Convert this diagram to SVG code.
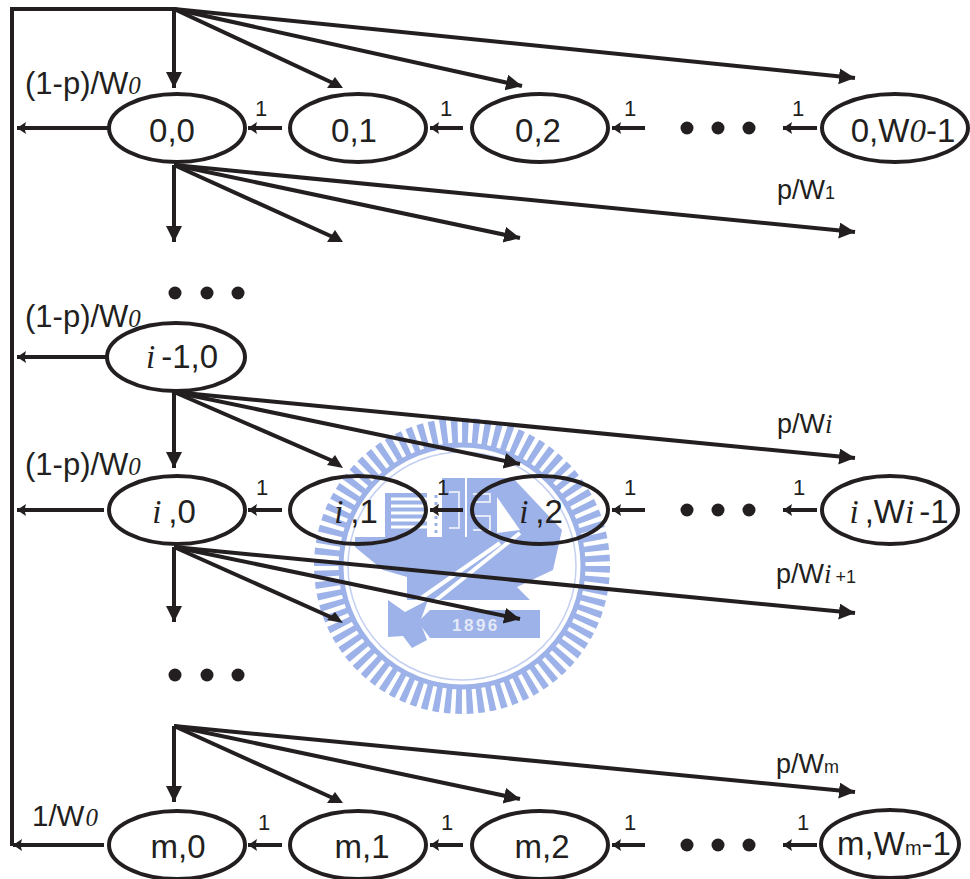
<svg xmlns="http://www.w3.org/2000/svg" width="970" height="879" viewBox="0 0 970 879">
<style>
text{font-family:"Liberation Sans",Arial,sans-serif;fill:#231f20}
.n{font-size:33px;text-anchor:middle}
.l{font-size:27px}
.L{font-size:31px}
.K{font-size:29.5px}
.o{font-size:22px}
.e{fill:none;stroke:#231f20;stroke-width:4}
.i{font-family:"Liberation Serif","Times New Roman",serif;font-style:italic}
.z{font-size:25px}
.s{font-size:18px}
.c line,.c path{stroke:#231f20;stroke-width:4;fill:none}
.a{marker-end:url(#big)}
.b{marker-end:url(#small)}
.d{fill:#231f20}
.w{fill:#9db2e8}
</style>
<defs>
<marker id="big" markerUnits="userSpaceOnUse" markerWidth="20" markerHeight="20" refX="16" refY="8" orient="auto"><path d="M0 0L16 8L0 16Z" fill="#231f20"/></marker>
<marker id="small" markerUnits="userSpaceOnUse" markerWidth="16" markerHeight="16" refX="9" refY="6" orient="auto"><path d="M0 0L9 6L0 12L1.5 6Z" fill="#231f20"/></marker>
</defs>
<g id="watermark">
<circle cx="462" cy="566" r="135" fill="none" stroke="#9db2e8" stroke-width="26" stroke-dasharray="6.2 4.4"/>
<circle cx="462" cy="566" r="121" fill="none" stroke="#9db2e8" stroke-width="5"/>
<circle cx="462" cy="566" r="114" fill="none" stroke="#c3cff0" stroke-width="1.5"/>
<path class="w" d="M385 493H427V537H385Z"/>
<path d="M391 499H427M391 506H427M391 513H427M391 520H427M391 527H427" stroke="#fff" stroke-width="3" fill="none"/>
<path d="M436 495V537" stroke="#9db2e8" stroke-width="3" stroke-dasharray="3 4" fill="none"/>
<path class="w" d="M442 478H465V537H442Z"/>
<path d="M449 492H459V528H449" fill="none" stroke="#e4e9f8" stroke-width="2"/>
<path class="w" d="M467 478H513L562 530L553 570L517 587L530 600H407V577L383 570L355 547V537H467Z"/>
<path d="M473 494H490V502H473V516H490V530H473" fill="none" stroke="#e4e9f8" stroke-width="2"/>
<path d="M497 497L520 530L497 533Z" fill="#fff"/>
<path d="M407 608L500 543M415 617L520 533" stroke="#fff" stroke-width="4" fill="none"/>
<path class="w" d="M388 600L405 612L428 600L420 622L427 640L412 648L403 636L388 637Z"/>
<path class="w" d="M430 610H540V638H430L418 622Z"/>
<text x="452" y="631" style="font-size:17px;font-weight:bold;fill:#e4e9f8;letter-spacing:2.5px">1896</text>
</g>
<g id="connectors" class="c">
<path d="M12 846V9H174"/>
<line class="a" x1="174" y1="9" x2="174" y2="88"/><line x1="174" y1="9" x2="335" y2="84"/><polygon class="d" points="327,88 343,88 335,77"/><line class="a" x1="174" y1="9" x2="522" y2="86"/><line class="a" x1="174" y1="9" x2="855" y2="78"/>
<line class="a" x1="174" y1="165" x2="174" y2="242"/><line x1="174" y1="165" x2="335" y2="238"/><polygon class="d" points="327,242 343,242 335,230"/><line class="a" x1="174" y1="165" x2="520" y2="238"/><line class="a" x1="174" y1="165" x2="855" y2="232"/>
<line class="a" x1="174" y1="392" x2="174" y2="468"/><line x1="174" y1="392" x2="335" y2="462"/><polygon class="d" points="327,465 343,468 335,455"/><line class="a" x1="174" y1="392" x2="520" y2="464"/><line class="a" x1="174" y1="392" x2="855" y2="458"/>
<line class="a" x1="174" y1="547" x2="174" y2="622"/><line x1="174" y1="547" x2="335" y2="619"/><polygon class="d" points="327,620 343,623 335,612"/><line class="a" x1="174" y1="547" x2="520" y2="619"/><line class="a" x1="174" y1="547" x2="855" y2="613"/>
<line class="a" x1="174" y1="726" x2="174" y2="802"/><line x1="174" y1="726" x2="335" y2="799"/><polygon class="d" points="327,803 343,803 335,792"/><line class="a" x1="174" y1="726" x2="520" y2="799"/><line class="a" x1="174" y1="726" x2="855" y2="792"/>
<line class="b" x1="108" y1="128" x2="17" y2="128"/><line class="b" x1="108" y1="357" x2="17" y2="357"/><line class="b" x1="104" y1="510" x2="17" y2="510"/><line class="b" x1="104" y1="845" x2="13" y2="845"/>
<line class="b" x1="282" y1="128" x2="248" y2="128"/><line class="b" x1="463" y1="128" x2="430" y2="128"/><line class="b" x1="645" y1="128" x2="612" y2="128"/><line class="b" x1="817" y1="128" x2="783" y2="128"/>
<line class="b" x1="282" y1="510" x2="248" y2="510"/><line class="b" x1="463" y1="510" x2="430" y2="510"/><line class="b" x1="645" y1="510" x2="612" y2="510"/><line class="b" x1="817" y1="510" x2="783" y2="510"/>
<line class="b" x1="282" y1="845" x2="248" y2="845"/><line class="b" x1="463" y1="845" x2="430" y2="845"/><line class="b" x1="645" y1="845" x2="612" y2="845"/><line class="b" x1="817" y1="845" x2="783" y2="845"/>
</g>
<g id="n00"><ellipse class="e" cx="177" cy="128" rx="68" ry="34"/><text class="n" x="172" y="142">0,0</text></g>
<g id="n01"><ellipse class="e" cx="358" cy="128" rx="68" ry="34"/><text class="n" x="354" y="142">0,1</text></g>
<g id="n02"><ellipse class="e" cx="540" cy="128" rx="68" ry="34"/><text class="n" x="538" y="142">0,2</text></g>
<g id="n0w"><ellipse class="e" cx="895" cy="128" rx="73" ry="34"/><text class="n" x="903" y="142">0,W<tspan class="i">0</tspan>-1</text></g>
<g id="ni10"><ellipse class="e" cx="176" cy="357" rx="69" ry="34"/><text class="n" x="182" y="368"><tspan class="i">i</tspan><tspan dx="6">-1,0</tspan></text></g>
<g id="ni0"><ellipse class="e" cx="177" cy="510" rx="68" ry="34"/><text class="n" x="174" y="523"><tspan class="i">i</tspan><tspan dx="7">,0</tspan></text></g>
<g id="ni1"><ellipse class="e" cx="358" cy="510" rx="68" ry="34"/><text class="n" x="356" y="523"><tspan class="i">i</tspan><tspan dx="7">,1</tspan></text></g>
<g id="ni2"><ellipse class="e" cx="540" cy="510" rx="68" ry="34"/><text class="n" x="541" y="523"><tspan class="i">i</tspan><tspan dx="7">,2</tspan></text></g>
<g id="niw"><ellipse class="e" cx="890" cy="510" rx="68" ry="34"/><text class="n" x="899" y="523"><tspan class="i">i</tspan><tspan dx="6">,W</tspan><tspan class="i">i</tspan><tspan dx="5">-1</tspan></text></g>
<g id="nm0"><ellipse class="e" cx="177" cy="845" rx="68" ry="34"/><text class="n" x="178" y="858">m,0</text></g>
<g id="nm1"><ellipse class="e" cx="358" cy="845" rx="68" ry="34"/><text class="n" x="362" y="858">m,1</text></g>
<g id="nm2"><ellipse class="e" cx="540" cy="845" rx="68" ry="34"/><text class="n" x="542" y="858">m,2</text></g>
<g id="nmw"><ellipse class="e" cx="890" cy="844" rx="69" ry="34"/><text class="n" x="894" y="855">m,W<tspan style="font-size:20px">m</tspan>-1</text></g>
<g id="labels">
<text class="L" x="25" y="94">(1-p)/W<tspan class="i z">0</tspan></text>
<text class="L" x="25" y="327">(1-p)/W<tspan class="i z">0</tspan></text>
<text class="L" x="25" y="475">(1-p)/W<tspan class="i z">0</tspan></text>
<text class="K" x="32" y="826">1/W<tspan class="i z" dx="1">0</tspan></text>
<text class="l" x="777" y="199">p/W<tspan class="s">1</tspan></text>
<text class="l" x="777" y="433">p/W<tspan class="i">i</tspan></text>
<text class="l" x="776" y="583">p/W<tspan class="i">i</tspan><tspan class="s" dx="4">+1</tspan></text>
<text class="l" x="776" y="773">p/W<tspan class="s">m</tspan></text>
<text class="o" x="255" y="116">1</text><text class="o" x="440" y="116">1</text><text class="o" x="624" y="116">1</text><text class="o" x="792" y="116">1</text>
<text class="o" x="256" y="495">1</text><text class="o" x="437" y="495">1</text><text class="o" x="624" y="495">1</text><text class="o" x="793" y="495">1</text>
<text class="o" x="258" y="830">1</text><text class="o" x="441" y="830">1</text><text class="o" x="624" y="830">1</text><text class="o" x="797" y="830">1</text>
</g>
<g id="dots" class="d">
<circle cx="687" cy="128" r="6.5"/><circle cx="718" cy="128" r="6.5"/><circle cx="749" cy="128" r="6.5"/>
<circle cx="687" cy="510" r="6.5"/><circle cx="718" cy="510" r="6.5"/><circle cx="749" cy="510" r="6.5"/>
<circle cx="687" cy="845" r="6.5"/><circle cx="718" cy="845" r="6.5"/><circle cx="749" cy="845" r="6.5"/>
<circle cx="175" cy="293" r="6.5"/><circle cx="207" cy="293" r="6.5"/><circle cx="238" cy="293" r="6.5"/>
<circle cx="175" cy="675" r="6.5"/><circle cx="207" cy="675" r="6.5"/><circle cx="238" cy="675" r="6.5"/>
</g>
</svg>
